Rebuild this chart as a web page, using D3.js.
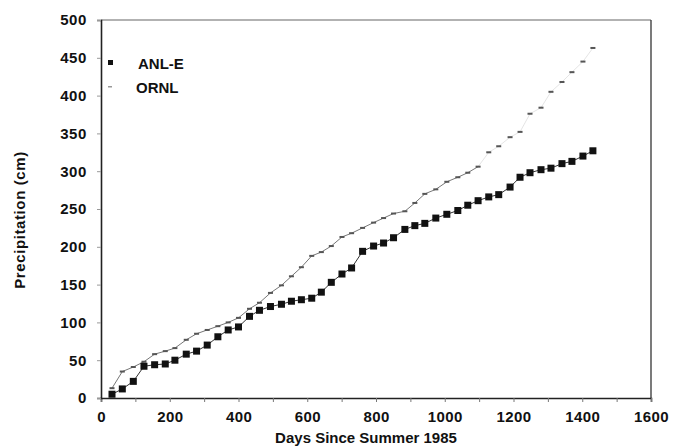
<!DOCTYPE html>
<html>
<head>
<meta charset="utf-8">
<script src="https://cdn.jsdelivr.net/npm/d3@7"></script>
<style>
  html, body { margin: 0; padding: 0; background: #fff; }
  svg { display: block; }
  text { font-family: "Liberation Sans", Arial, sans-serif; font-weight: bold; fill: #111; }
</style>
</head>
<body>
<svg id="chart" width="673" height="447"></svg>
<script>
// ---- data ----
const days = [32, 62, 94, 125, 156, 187, 215, 248, 278, 309, 340, 370, 400, 432, 461, 493,
  525, 554, 583, 613, 641, 670, 701, 729, 761, 793, 822, 851, 884, 913, 942, 974, 1006,
  1038, 1067, 1097, 1128, 1157, 1190, 1219, 1248, 1280, 1309, 1341, 1370, 1402, 1431];
const anlE = [5, 12, 22, 42, 44, 45, 50, 58, 62, 70, 81, 90, 94, 108, 116, 121,
  124, 128, 130, 132, 140, 153, 164, 172, 194, 201, 205, 212, 223, 228, 231, 238, 243,
  248, 255, 261, 266, 269, 279, 292, 298, 302, 304, 310, 313, 320, 327];
const ornl = [13, 35, 41, 48, 58, 62, 66, 77, 85, 90, 95, 100, 106, 118, 126, 139,
  149, 161, 173, 188, 193, 201, 213, 218, 225, 232, 238, 244, 247, 258, 270, 276, 286,
  292, 298, 306, 325, 333, 345, 352, 376, 384, 405, 418, 431, 445, 463];
const seriesNames = ["ANL-E", "ORNL"];
const xTicks = [0, 200, 400, 600, 800, 1000, 1200, 1400, 1600];
const yTicks = [0, 50, 100, 150, 200, 250, 300, 350, 400, 450, 500];
const xTitle = "Days Since Summer 1985";
const yTitle = "Precipitation (cm)";

// ---- layout ----
const svg = d3.select("#chart");
const L = 101, R = 651, T = 20, B = 398;
const x = d3.scaleLinear().domain([0, 1600]).range([L, R]);
const y = d3.scaleLinear().domain([0, 500]).range([B, T]);

// frame (top/right)
svg.append("line").attr("x1", L).attr("x2", R).attr("y1", T).attr("y2", T)
  .attr("stroke", "#666").attr("stroke-width", 1.2);
svg.append("line").attr("x1", R).attr("x2", R).attr("y1", T).attr("y2", B)
  .attr("stroke", "#333").attr("stroke-width", 1.3);

// x axis
const xAxis = d3.axisBottom(x).tickValues(d3.range(0, 1601, 100))
  .tickSize(4).tickPadding(9)
  .tickFormat(d => xTicks.includes(d) ? d : "");
const gx = svg.append("g").attr("transform", `translate(0,${B})`).call(xAxis);
gx.select(".domain").attr("stroke", "#222").attr("stroke-width", 1.6);
gx.selectAll(".tick line").attr("stroke", "#777");
gx.selectAll("text").style("font-size", "15px").style("letter-spacing", "0.4px").attr("fill", "#111");

// y axis
const yAxis = d3.axisLeft(y).tickValues(yTicks).tickSize(4).tickPadding(10);
const gy = svg.append("g").attr("transform", `translate(${L},0)`).call(yAxis);
gy.select(".domain").attr("stroke", "#222").attr("stroke-width", 1.6);
gy.selectAll(".tick line").attr("stroke", "#999");
gy.selectAll("text").style("font-size", "15px").style("letter-spacing", "0.6px").attr("fill", "#111");

// titles
svg.append("text").attr("x", 366).attr("y", 443).attr("text-anchor", "middle")
  .style("font-size", "15px").text(xTitle);
svg.append("text").attr("transform", "translate(25,220) rotate(-90)")
  .attr("text-anchor", "middle").style("font-size", "15px")
  .style("letter-spacing", "0.6px").text(yTitle);

// ORNL line + markers
const ptsO = days.map((d, i) => [d, ornl[i]]);
const line = d3.line().x(d => x(d[0])).y(d => y(d[1]));
svg.append("path").attr("d", line(ptsO.filter(p => p[0] <= 1100)))
  .attr("fill", "none").attr("stroke", "#777").attr("stroke-width", 1);
svg.append("path").attr("d", line(ptsO.filter(p => p[0] >= 1097)))
  .attr("fill", "none").attr("stroke", "#ddd").attr("stroke-width", 0.8);
svg.selectAll(".om").data(ptsO).enter().append("rect")
  .attr("x", d => x(d[0]) - 2.5).attr("y", d => y(d[1]) - 1)
  .attr("width", 5).attr("height", 2).attr("fill", "#555");

// ANL-E line + squares
const ptsA = days.map((d, i) => [d, anlE[i]]);
svg.append("path").attr("d", line(ptsA))
  .attr("fill", "none").attr("stroke", "#333").attr("stroke-width", 1);
svg.selectAll(".am").data(ptsA).enter().append("rect")
  .attr("x", d => x(d[0]) - 3.5).attr("y", d => y(d[1]) - 3.5)
  .attr("width", 7).attr("height", 7).attr("fill", "#111");

// legend
const lg = svg.append("g");
lg.append("rect").attr("x", 108).attr("y", 60).attr("width", 5).attr("height", 5).attr("fill", "#111");
lg.append("text").attr("x", 138).attr("y", 69).style("font-size", "15px").text(seriesNames[0]);
lg.append("rect").attr("x", 108).attr("y", 86).attr("width", 4).attr("height", 1.5).attr("fill", "#999");
lg.append("text").attr("x", 136).attr("y", 93).style("font-size", "15px").text(seriesNames[1]);
</script>
</body>
</html>
